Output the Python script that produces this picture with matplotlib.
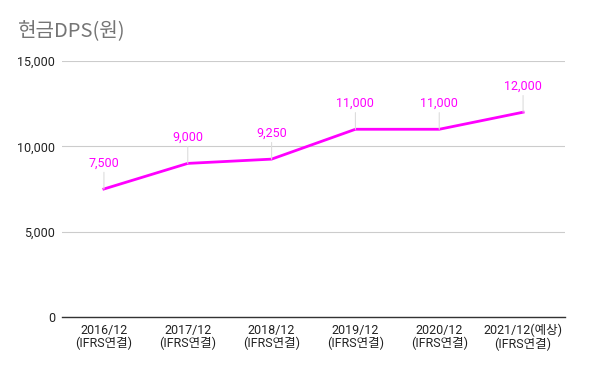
import matplotlib
matplotlib.use("Agg")
import matplotlib.pyplot as plt

categories = ["2016/12\n(IFRS연결)", "2017/12\n(IFRS연결)", "2018/12\n(IFRS연결)",
              "2019/12\n(IFRS연결)", "2020/12\n(IFRS연결)", "2021/12(예상)\n(IFRS연결)"]
values = [7500, 9000, 9250, 11000, 11000, 12000]
yticks = [0, 5000, 10000, 15000]

plt.rcParams['font.family'] = ['Roboto', 'Noto Sans CJK KR', 'DejaVu Sans']

fig = plt.figure(figsize=(6, 3.71), dpi=100)
ax = fig.add_axes([62/600, 1-317/371, (565-62)/600, (317-61)/371])

x = list(range(len(values)))
ax.plot(x, values, color='#ff00ff', lw=2, solid_joinstyle='round', zorder=3)

for xi, v in zip(x, values):
    ax.annotate(f"{v:,}", xy=(xi, v), xytext=(0, 14), textcoords='offset points',
                ha='center', va='bottom', color='#ff00ff', fontsize=9,
                arrowprops=dict(arrowstyle='-', color='#dddddd', lw=0.8,
                                shrinkA=0, shrinkB=0))

ax.set_xlim(-0.5, len(values) - 0.5)
ax.set_ylim(0, 15000)
ax.set_yticks(yticks)
ax.set_yticklabels([f"{t:,}" for t in yticks], fontsize=9, color='#222222')
ax.set_xticks(x)
ax.set_xticklabels(categories, fontsize=9, color='#222222', linespacing=1.0)
ax.tick_params(axis='both', length=0, pad=5)
ax.grid(axis='y', color='#cccccc', lw=0.8)
ax.set_axisbelow(True)
for s in ['top', 'right', 'left']:
    ax.spines[s].set_visible(False)
ax.spines['bottom'].set_color('#333333')
ax.spines['bottom'].set_linewidth(1)

fig.text(18/600, 1-32/371, "현금DPS(원)", fontsize=14.5, color='#757575',
         ha='left', va='center', family=['Noto Sans CJK KR', 'DejaVu Sans'])

fig.savefig("out.png", dpi=100, facecolor='white')
